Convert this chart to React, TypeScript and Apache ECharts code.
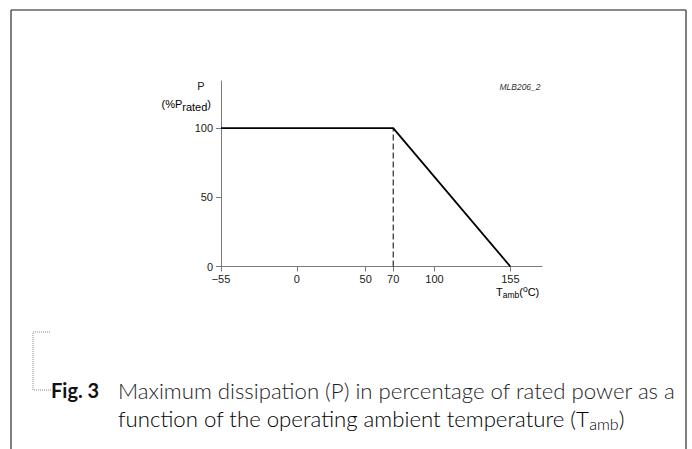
import React, { useEffect, useRef } from "react";
import * as echarts from "echarts";

const tempC = [-55, 70, 155];
const powerPct = [100, 100, 0];
const kneeTemp = [70, 70];
const kneePct = [0, 100];
const xTicks = [-55, 0, 50, 70, 100, 155];
const yTicks = [0, 50, 100];
const xMin = -55;
const xMax = 178;
const yMin = 0;
const yMax = 134;

const SANS = "'Liberation Sans', Arial, Helvetica, sans-serif";
const CAP = "Lato, 'Open Sans', sans-serif";
const AXIS_GRAY = "#7a7a7a";

export default function App() {
  const ref = useRef<HTMLDivElement>(null);
  useEffect(() => {
    document.body.style.margin = "0";
    const chart = echarts.init(ref.current!, null, { renderer: "svg" });
    const lineData = tempC.map((t, i) => [t, powerPct[i]]);
    const kneeData = kneeTemp.map((t, i) => [t, kneePct[i]]);
    chart.setOption({
      animation: false,
      backgroundColor: "#ffffff",
      grid: { left: 221, top: 81, right: 150, bottom: 182.5 },
      xAxis: {
        type: "value",
        min: xMin,
        max: xMax,
        axisLine: { show: true, onZero: false, lineStyle: { color: AXIS_GRAY, width: 1 } },
        axisTick: { show: true, customValues: xTicks, length: 5, lineStyle: { color: AXIS_GRAY } },
        axisLabel: {
          customValues: xTicks,
          margin: 7,
          color: "#1a1a1a",
          fontFamily: SANS,
          fontSize: 11,
          formatter: (v: number) => (v < 0 ? "\u2212" + Math.abs(v) : String(v)),
        },
        splitLine: { show: false },
      },
      yAxis: {
        type: "value",
        min: yMin,
        max: yMax,
        axisLine: { show: true, onZero: false, lineStyle: { color: AXIS_GRAY, width: 1 } },
        axisTick: { show: true, customValues: yTicks, length: 5, lineStyle: { color: AXIS_GRAY } },
        axisLabel: {
          customValues: yTicks,
          margin: 8,
          color: "#1a1a1a",
          fontFamily: SANS,
          fontSize: 11,
        },
        splitLine: { show: false },
      },
      series: [
        {
          type: "line",
          data: lineData,
          symbol: "none",
          lineStyle: { color: "#000", width: 1.8 },
        },
        {
          type: "line",
          data: kneeData,
          symbol: "none",
          lineStyle: { color: "#000", width: 1, type: [6, 3] },
        },
      ],
      graphic: [
        { type: "line", shape: { x1: 11, y1: 10, x2: 686, y2: 10 }, style: { stroke: "#8a8a8a", lineWidth: 2 } },
        { type: "line", shape: { x1: 11, y1: 10, x2: 11, y2: 449 }, style: { stroke: "#555", lineWidth: 1.5 } },
        { type: "line", shape: { x1: 686, y1: 10, x2: 686, y2: 449 }, style: { stroke: "#555", lineWidth: 1.5 } },
        {
          type: "polyline",
          shape: { points: [[50, 332], [33, 332], [33, 390], [51, 390]] },
          style: { stroke: "#888", lineWidth: 1, lineDash: [1, 1], fill: null },
        },
        {
          type: "text",
          x: 201,
          y: 86,
          style: { text: "P", font: `11px ${SANS}`, fill: "#1a1a1a", textAlign: "center", textVerticalAlign: "middle" },
        },
        {
          type: "text",
          x: 211,
          y: 104,
          style: {
            text: "{a|(%P}{b|rated}{a|)}",
            textAlign: "right",
            textVerticalAlign: "middle",
            rich: {
              a: { fontFamily: SANS, fontSize: 11, color: "#1a1a1a" },
              b: { fontFamily: SANS, fontSize: 11, color: "#1a1a1a", padding: [6, 0, 0, 0] },
            },
          },
        },
        {
          type: "text",
          x: 520,
          y: 87,
          style: {
            text: "MLB206_2",
            font: `italic 8.5px ${SANS}`,
            fill: "#333",
            textAlign: "center",
            textVerticalAlign: "middle",
          },
        },
        {
          type: "text",
          x: 496,
          y: 292,
          style: {
            text: "{a|T}{b|amb}{a|(}{c|o}{a|C)}",
            textAlign: "left",
            textVerticalAlign: "middle",
            rich: {
              a: { fontFamily: SANS, fontSize: 11, color: "#1a1a1a" },
              b: { fontFamily: SANS, fontSize: 8.5, color: "#1a1a1a", padding: [6, 0, 0, 0] },
              c: { fontFamily: SANS, fontSize: 8.5, color: "#1a1a1a", padding: [0, 0, 6, 0] },
            },
          },
        },
        {
          type: "text",
          x: 51,
          y: 390,
          style: {
            text: "Fig. 3",
            font: `bold 20px ${CAP}`,
            fill: "#111",
            textAlign: "left",
            textVerticalAlign: "middle",
          },
        },
        {
          type: "text",
          x: 118,
          y: 390,
          style: {
            text: "Maximum dissipation (P) in percentage of rated power as a",
            font: `300 22.2px ${CAP}`,
            fill: "#1e1e1e",
            textAlign: "left",
            textVerticalAlign: "middle",
          },
        },
        {
          type: "text",
          x: 118,
          y: 418,
          style: {
            text: "{a|function of the operating ambient temperature (T}{b|amb}{a|)}",
            textAlign: "left",
            textVerticalAlign: "middle",
            rich: {
              a: { fontFamily: CAP, fontSize: 22.2, fontWeight: 300, color: "#1e1e1e" },
              b: { fontFamily: CAP, fontSize: 16, fontWeight: 300, color: "#1e1e1e", padding: [10, 0, 0, 0] },
            },
          },
        },
      ],
    });
    return () => chart.dispose();
  }, []);
  return <div ref={ref} style={{ width: 692, height: 449 }} />;
}
